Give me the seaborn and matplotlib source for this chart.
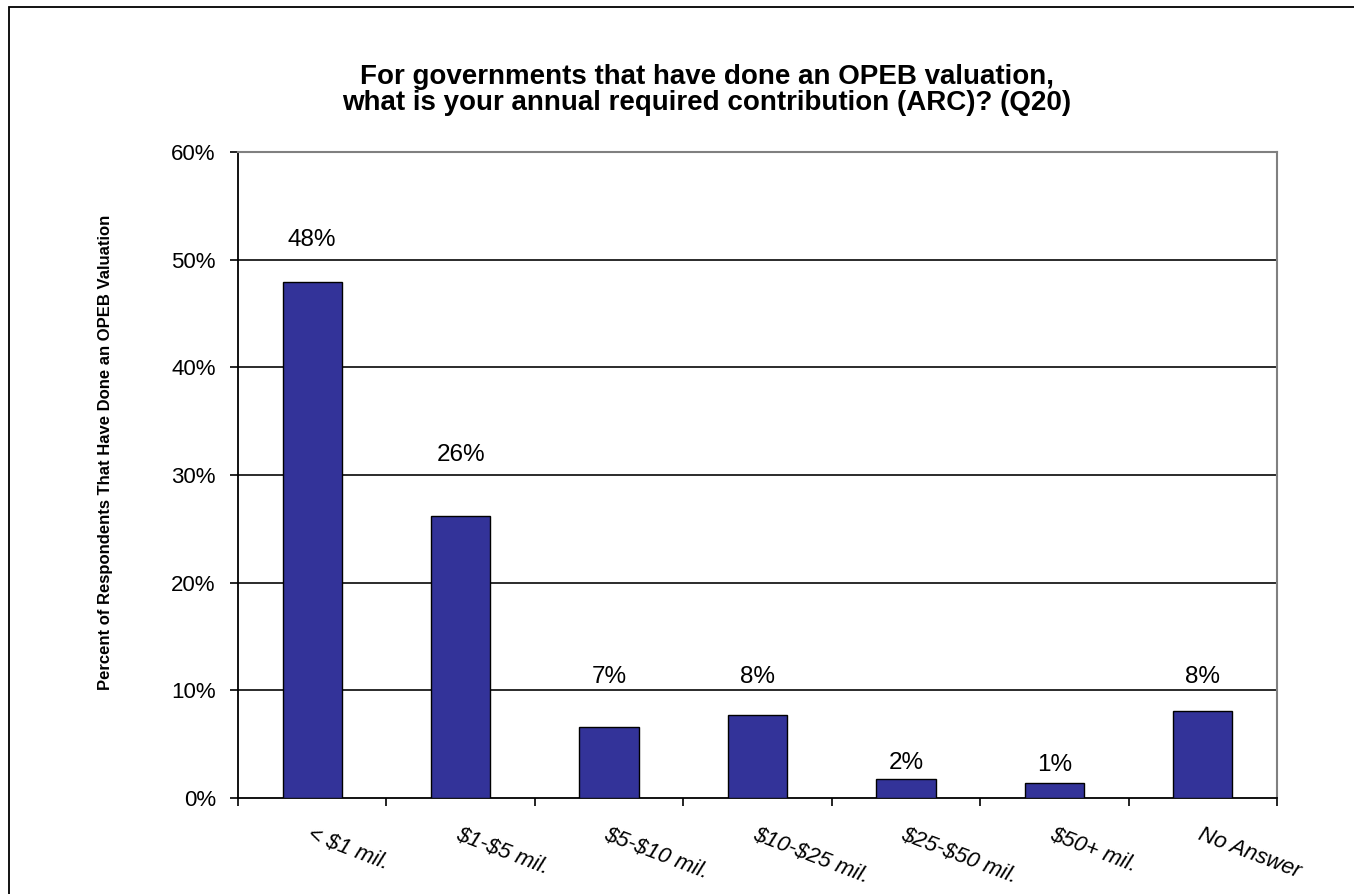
import matplotlib
matplotlib.use("Agg")
import matplotlib.pyplot as plt
import seaborn as sns
import pandas as pd
from matplotlib.patches import Rectangle
from matplotlib.ticker import FixedLocator, FuncFormatter

# Survey results (percent of respondents)
categories = ["< $1 mil.", "$1-$5 mil.", "$5-$10 mil.", "$10-$25 mil.",
              "$25-$50 mil.", "$50+ mil.", "No Answer"]
values = [47.96, 26.2, 6.63, 7.69, 1.77, 1.37, 8.09]

# Height (in percent units) at which each value label sits
label_heights = [51.8, 31.9, 11.2, 11.2, 3.25, 3.1, 11.2]

title = ("For governments that have done an OPEB valuation,\n"
         "what is your annual required contribution (ARC)? (Q20)")
ylabel = "Percent of Respondents That Have Done an OPEB Valuation"

sns.set_theme(style="white")
plt.rcParams["font.family"] = ["Liberation Sans", "DejaVu Sans"]
plt.rcParams["text.parse_math"] = False

W, H = 1354, 894
fig = plt.figure(figsize=(W / 100, H / 100), dpi=100)
fig.patch.set_facecolor("white")

# outer chart-area frame (runs off the right and bottom edges)
fig.add_artist(Rectangle((9 / W, -0.1), 1.2, 1 - 7 / H + 0.1,
                         transform=fig.transFigure, fill=False,
                         edgecolor="black", linewidth=1.3, zorder=0))

x0, x1, y0, y1 = 238, 1277, 798, 152
ax = fig.add_axes([x0 / W, 1 - y0 / H, (x1 - x0) / W, (y0 - y1) / H])

df = pd.DataFrame({"category": categories, "value": values})
sns.barplot(data=df, x="category", y="value", ax=ax, color="#333399",
            saturation=1, width=0.4, edgecolor="black", linewidth=1.0,
            zorder=3)

ax.set_xlim(-0.5, len(categories) - 0.5)
ax.set_ylim(0, 60)

# horizontal gridlines
for yv in range(10, 60, 10):
    ax.axhline(yv, color="#1a1a1a", linewidth=1.3, zorder=1)

for side in ("top", "right"):
    ax.spines[side].set_color("#808080")
    ax.spines[side].set_linewidth(1.5)
for side in ("left", "bottom"):
    ax.spines[side].set_color("black")
    ax.spines[side].set_linewidth(1.3)

# y axis
ax.yaxis.set_major_locator(FixedLocator(range(0, 61, 10)))
ax.yaxis.set_major_formatter(FuncFormatter(lambda v, p: f"{v:.0f}%"))
ax.tick_params(axis="y", which="major", left=True, length=6, width=1.2,
               color="black", direction="out", pad=10, labelsize=16,
               labelcolor="black")

# x axis: labels at category centres, tick marks at category boundaries
ax.set_xticks(range(len(categories)))
ax.set_xticklabels(categories, rotation=-21, ha="left", va="top",
                   rotation_mode="anchor", fontsize=16, style="italic")
ax.tick_params(axis="x", which="major", bottom=True, length=0, pad=19,
               labelcolor="black")
ax.xaxis.set_minor_locator(FixedLocator([i - 0.5 for i in range(len(categories) + 1)]))
ax.tick_params(axis="x", which="minor", bottom=True, length=6, width=1.2,
               color="black", direction="out")

ax.set_xlabel("")
ax.set_ylabel(ylabel, fontsize=12, fontweight="bold", color="black")
ax.yaxis.set_label_coords((113 - x0) / (x1 - x0), 0.535)

# value labels
for i, (v, ly) in enumerate(zip(values, label_heights)):
    ax.text(i, ly, f"{round(v):d}%", ha="center", va="center",
            fontsize=17.5, color="black", zorder=4)

fig.text(707 / W, 1 - 90 / H, title, ha="center", va="center",
         fontsize=20, fontweight="bold", linespacing=0.98, color="black")

fig.savefig("out.png", dpi=100, facecolor="white")
